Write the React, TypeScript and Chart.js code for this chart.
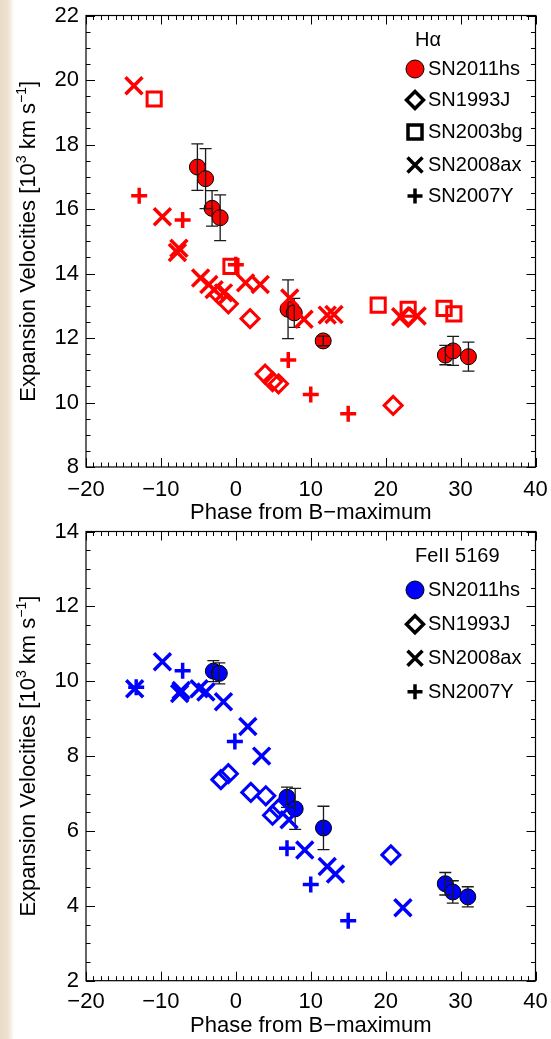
import React, { useEffect, useRef } from 'react';
import { Chart, registerables } from 'chart.js';

Chart.register(...registerables);

const FONT = "'Liberation Sans', Arial, Helvetica, sans-serif";
const RED = '#ff0000';
const BLUE = '#0000ff';

// ---------------- Top panel: H-alpha ----------------
const haHeader = 'H\u03b1';
const ha2011hsPhase = [-5.13, -4.04, -3.17, -2.09, 6.97, 7.8, 11.66, 27.97, 29.0, 31.05];
const ha2011hsVel = [17.3, 16.94, 16.02, 15.73, 12.89, 12.78, 11.91, 11.47, 11.6, 11.42];
const ha2011hsErr = [0.72, 0.93, 0.55, 0.71, 0.91, 0.45, 0.15, 0.3, 0.45, 0.45];
const ha1993jPhase = [-2.3, -1.0, 1.9, 3.9, 4.9, 5.7, 21.0, 23.0];
const ha1993jVel = [13.35, 13.06, 12.6, 10.88, 10.65, 10.58, 9.91, 12.65];
const ha2003bgPhase = [-10.9, -0.65, 19.0, 23.0, 27.8, 29.1];
const ha2003bgVel = [19.41, 14.22, 13.02, 12.89, 12.92, 12.75];
const ha2008axPhase = [-13.6, -9.8, -7.6, -7.8, -4.7, -3.6, -2.9, -1.65, 1.3, 3.26, 7.2, 9.1, 12.2, 13.1, 22.0, 24.2];
const ha2008axVel = [19.82, 15.76, 14.78, 14.65, 13.86, 13.66, 13.5, 13.4, 13.71, 13.66, 13.24, 12.58, 12.71, 12.73, 12.66, 12.68];
const ha2007yPhase = [-12.9, -7.1, 0.0, 7.0, 10.0, 15.0];
const ha2007yVel = [16.41, 15.66, 14.27, 11.32, 10.25, 9.65];

// ---------------- Bottom panel: FeII 5169 ----------------
const feHeader = 'FeII 5169';
const fe2011hsPhase = [-3.0, -2.2, 6.83, 7.92, 11.7, 27.96, 28.96, 30.96];
const fe2011hsVel = [10.27, 10.21, 6.9, 6.59, 6.08, 4.59, 4.37, 4.24];
const fe2011hsErr = [0.28, 0.28, 0.27, 0.55, 0.58, 0.3, 0.3, 0.27];
const fe1993jPhase = [-2.0, -1.0, 2.0, 4.0, 4.9, 5.7, 20.7];
const fe1993jVel = [7.37, 7.53, 7.03, 6.94, 6.42, 6.59, 5.36];
const fe2008axPhase = [-13.5, -9.8, -7.5, -7.3, -4.9, -4.0, -1.65, 1.6, 3.44, 7.1, 9.2, 12.2, 13.3, 22.3];
const fe2008axVel = [9.8, 10.52, 9.67, 9.75, 9.8, 9.71, 9.45, 8.79, 8.0, 6.3, 5.49, 5.05, 4.85, 3.95];
const fe2007yPhase = [-13.3, -7.1, -0.13, 6.83, 10.0, 15.0];
const fe2007yVel = [9.84, 10.28, 8.39, 5.54, 4.57, 3.6];

// axis ranges / ticks
const xMin = -20, xMax = 40, xStep = 10, xMinor = 1;
const haYMin = 8, haYMax = 22;
const feYMin = 2, feYMax = 14;
const yStep = 2, yMinor = 0.5;

const xTitle = 'Phase from B\u2212maximum';

type Kind = 'circle' | 'diamond' | 'square' | 'xcross' | 'plus';

function series(kind: Kind, color: string, label: string, xs: number[], ys: number[], errs?: number[]) {
  const data = xs.map((x, i) => ({ x, y: ys[i] }));
  const base: any = {
    label,
    data,
    showLine: false,
    borderColor: color,
    backgroundColor: 'rgba(0,0,0,0)',
    order: 1,
  };
  if (kind === 'circle') {
    Object.assign(base, { pointStyle: 'circle', pointRadius: 8, backgroundColor: color, borderColor: '#000', borderWidth: 1, order: 10, errors: errs });
  } else if (kind === 'diamond') {
    Object.assign(base, { pointStyle: 'rectRot', pointRadius: 9, borderWidth: 3 });
  } else if (kind === 'square') {
    Object.assign(base, { pointStyle: 'rect', pointRadius: 10, borderWidth: 3 });
  } else if (kind === 'xcross') {
    Object.assign(base, { pointStyle: 'crossRot', pointRadius: 12, borderWidth: 3.5 });
  } else {
    Object.assign(base, { pointStyle: 'cross', pointRadius: 8, borderWidth: 3.5 });
  }
  base.pointHoverRadius = base.pointRadius;
  return base;
}

const fmt = (v: any) => String(v).replace('-', '\u2212');

function drawMarker(ctx: CanvasRenderingContext2D, kind: Kind, x: number, y: number, fill: string) {
  ctx.save();
  ctx.strokeStyle = '#000';
  ctx.beginPath();
  if (kind === 'circle') {
    ctx.fillStyle = fill;
    ctx.lineWidth = 1;
    ctx.arc(x, y, 9, 0, Math.PI * 2);
    ctx.fill();
    ctx.stroke();
  } else if (kind === 'diamond') {
    ctx.lineWidth = 3.5;
    const h = 8.5;
    ctx.moveTo(x - h, y); ctx.lineTo(x, y - h); ctx.lineTo(x + h, y); ctx.lineTo(x, y + h); ctx.closePath();
    ctx.stroke();
  } else if (kind === 'square') {
    ctx.lineWidth = 3.5;
    ctx.rect(x - 7, y - 7, 14, 14);
    ctx.stroke();
  } else if (kind === 'xcross') {
    ctx.lineWidth = 3.5;
    const h = 7.5;
    ctx.moveTo(x - h, y - h); ctx.lineTo(x + h, y + h);
    ctx.moveTo(x - h, y + h); ctx.lineTo(x + h, y - h);
    ctx.stroke();
  } else {
    ctx.lineWidth = 3.5;
    const h = 7.5;
    ctx.moveTo(x - h, y); ctx.lineTo(x + h, y);
    ctx.moveTo(x, y - h); ctx.lineTo(x, y + h);
    ctx.stroke();
  }
  ctx.restore();
}

type Panel = {
  height: number;
  top: number;
  padTop: number;
  xAxisH: number;
  xTickPad: number;
  xTitlePad: number;
  yMin: number;
  yMax: number;
  header: string;
  headerY: number;
  legend: { kind: Kind; label: string; y: number }[];
  color: string;
  datasets: any[];
};

function makePlugin(p: Panel) {
  return {
    id: 'frameDecor',
    afterDatasetDraw(chart: any, args: any) {
      const ds = chart.data.datasets[args.index];
      if (!ds.errors) return;
      const ctx = chart.ctx;
      const xs = chart.scales.x, ys = chart.scales.y;
      ctx.save();
      ctx.strokeStyle = '#1a1a1a';
      ctx.lineWidth = 1.3;
      ds.data.forEach((pt: any, i: number) => {
        const e = ds.errors[i];
        const px = xs.getPixelForValue(pt.x);
        const y1 = ys.getPixelForValue(pt.y + e);
        const y2 = ys.getPixelForValue(pt.y - e);
        ctx.beginPath();
        ctx.moveTo(px, y1); ctx.lineTo(px, y2);
        ctx.moveTo(px - 6, y1); ctx.lineTo(px + 6, y1);
        ctx.moveTo(px - 6, y2); ctx.lineTo(px + 6, y2);
        ctx.stroke();
      });
      ctx.restore();
    },
    afterDraw(chart: any) {
      const ctx: CanvasRenderingContext2D = chart.ctx;
      const { left, right, top, bottom } = chart.chartArea;
      const xs = chart.scales.x, ys = chart.scales.y;
      ctx.save();
      // frame
      ctx.strokeStyle = '#000';
      ctx.lineWidth = 1.2;
      ctx.strokeRect(left, top, right - left, bottom - top);
      // ticks
      ctx.lineWidth = 1;
      ctx.beginPath();
      for (let v = xMin; v <= xMax + 1e-9; v += xMinor) {
        const major = Math.abs(v / xStep - Math.round(v / xStep)) < 1e-6;
        const L = major ? 9 : 4.5;
        const px = Math.round(xs.getPixelForValue(v)) + 0.5;
        ctx.moveTo(px, bottom); ctx.lineTo(px, bottom - L);
        ctx.moveTo(px, top); ctx.lineTo(px, top + L);
      }
      for (let v = p.yMin; v <= p.yMax + 1e-9; v += yMinor) {
        const major = Math.abs(v / yStep - Math.round(v / yStep)) < 1e-6;
        const L = major ? 9 : 4.5;
        const py = Math.round(ys.getPixelForValue(v)) + 0.5;
        ctx.moveTo(left, py); ctx.lineTo(left + L, py);
        ctx.moveTo(right, py); ctx.lineTo(right - L, py);
      }
      ctx.stroke();

      // y-axis title with superscripts
      const segs: [string, boolean][] = [
        ['Expansion Velocities [10', false],
        ['3', true],
        [' km s', false],
        ['\u22121', true],
        [']', false],
      ];
      const mainF = `22px ${FONT}`;
      const supF = `14px ${FONT}`;
      let total = 0;
      const widths = segs.map(([t, sup]) => {
        ctx.font = sup ? supF : mainF;
        const w = ctx.measureText(t).width;
        total += w;
        return w;
      });
      ctx.translate(35, (top + bottom) / 2);
      ctx.rotate(-Math.PI / 2);
      ctx.fillStyle = '#000';
      ctx.textBaseline = 'alphabetic';
      ctx.textAlign = 'left';
      let cx = -total / 2;
      segs.forEach(([t, sup], i) => {
        ctx.font = sup ? supF : mainF;
        ctx.fillText(t, cx, sup ? -9 : 0);
        cx += widths[i];
      });
      ctx.setTransform(1, 0, 0, 1, 0, 0);
      ctx.restore();

      // legend
      ctx.save();
      ctx.fillStyle = '#000';
      ctx.font = `20px ${FONT}`;
      ctx.textBaseline = 'middle';
      ctx.textAlign = 'left';
      ctx.fillText(p.header, 415, p.headerY);
      p.legend.forEach((e) => {
        drawMarker(ctx, e.kind, 415, e.y, p.color);
        ctx.fillStyle = '#000';
        ctx.fillText(e.label, 428, e.y + 0.5);
      });
      ctx.restore();
    },
  };
}

function makeConfig(p: Panel): any {
  return {
    type: 'scatter',
    data: { datasets: p.datasets },
    options: {
      animation: false,
      responsive: false,
      maintainAspectRatio: false,
      events: [],
      layout: { padding: { top: p.padTop, right: 5, left: 0, bottom: 0 } },
      plugins: { legend: { display: false }, tooltip: { enabled: false } },
      scales: {
        x: {
          type: 'linear',
          min: xMin,
          max: xMax,
          grid: { display: false, drawTicks: false, tickLength: 0 },
          border: { display: false },
          ticks: {
            stepSize: xStep,
            autoSkip: false,
            maxRotation: 0,
            padding: p.xTickPad,
            color: '#000',
            font: { family: FONT, size: 22 },
            callback: fmt,
          },
          title: {
            display: true,
            text: xTitle,
            color: '#000',
            font: { family: FONT, size: 22 },
            padding: { top: 0, bottom: p.xTitlePad },
          },
          afterFit: (s: any) => {
            s.height = p.xAxisH;
            s.paddingLeft = 0;
            s.paddingRight = 0;
          },
        },
        y: {
          type: 'linear',
          min: p.yMin,
          max: p.yMax,
          grid: { display: false, drawTicks: false, tickLength: 0 },
          border: { display: false },
          ticks: {
            stepSize: yStep,
            autoSkip: false,
            padding: 7,
            color: '#000',
            font: { family: FONT, size: 22 },
            callback: fmt,
          },
          afterFit: (s: any) => {
            s.width = 86;
            s.paddingTop = 0;
            s.paddingBottom = 0;
          },
        },
      },
    },
    plugins: [makePlugin(p)],
  };
}

const topPanel: Panel = {
  height: 530,
  top: 0,
  padTop: 12.5,
  xAxisH: 63,
  xTickPad: 9.3,
  xTitlePad: 4.3,
  yMin: haYMin,
  yMax: haYMax,
  header: haHeader,
  headerY: 40,
  color: RED,
  legend: [
    { kind: 'circle', label: 'SN2011hs', y: 69 },
    { kind: 'diamond', label: 'SN1993J', y: 100 },
    { kind: 'square', label: 'SN2003bg', y: 132 },
    { kind: 'xcross', label: 'SN2008ax', y: 165 },
    { kind: 'plus', label: 'SN2007Y', y: 196 },
  ],
  datasets: [
    series('circle', RED, 'SN2011hs', ha2011hsPhase, ha2011hsVel, ha2011hsErr),
    series('diamond', RED, 'SN1993J', ha1993jPhase, ha1993jVel),
    series('square', RED, 'SN2003bg', ha2003bgPhase, ha2003bgVel),
    series('xcross', RED, 'SN2008ax', ha2008axPhase, ha2008axVel),
    series('plus', RED, 'SN2007Y', ha2007yPhase, ha2007yVel),
  ],
};

const bottomPanel: Panel = {
  height: 523,
  top: 516,
  padTop: 9.7,
  xAxisH: 58.3,
  xTickPad: 8.1,
  xTitlePad: 0,
  yMin: feYMin,
  yMax: feYMax,
  header: feHeader,
  headerY: 40.7,
  color: BLUE,
  legend: [
    { kind: 'circle', label: 'SN2011hs', y: 74 },
    { kind: 'diamond', label: 'SN1993J', y: 108.3 },
    { kind: 'xcross', label: 'SN2008ax', y: 142.3 },
    { kind: 'plus', label: 'SN2007Y', y: 175.7 },
  ],
  datasets: [
    series('circle', BLUE, 'SN2011hs', fe2011hsPhase, fe2011hsVel, fe2011hsErr),
    series('diamond', BLUE, 'SN1993J', fe1993jPhase, fe1993jVel),
    series('xcross', BLUE, 'SN2008ax', fe2008axPhase, fe2008axVel),
    series('plus', BLUE, 'SN2007Y', fe2007yPhase, fe2007yVel),
  ],
};

function PanelChart({ panel }: { panel: Panel }) {
  const ref = useRef<HTMLCanvasElement | null>(null);
  useEffect(() => {
    if (!ref.current) return;
    const chart = new Chart(ref.current, makeConfig(panel));
    return () => chart.destroy();
  }, [panel]);
  return (
    <canvas
      ref={ref}
      width={551}
      height={panel.height}
      style={{ position: 'absolute', left: 0, top: panel.top, width: 551, height: panel.height, display: 'block' }}
    />
  );
}

export default function App() {
  return (
    <div style={{ position: 'absolute', left: 0, top: 0, width: 551, height: 1039, background: '#fff', overflow: 'hidden' }}>
      <div
        style={{
          position: 'absolute',
          left: 0,
          top: 0,
          width: 14,
          height: 1039,
          background: 'linear-gradient(to right, #e8dcc6 0%, #ece2cf 55%, #f6f1e8 80%, #ffffff 100%)',
        }}
      />
      <PanelChart panel={topPanel} />
      <PanelChart panel={bottomPanel} />
    </div>
  );
}
